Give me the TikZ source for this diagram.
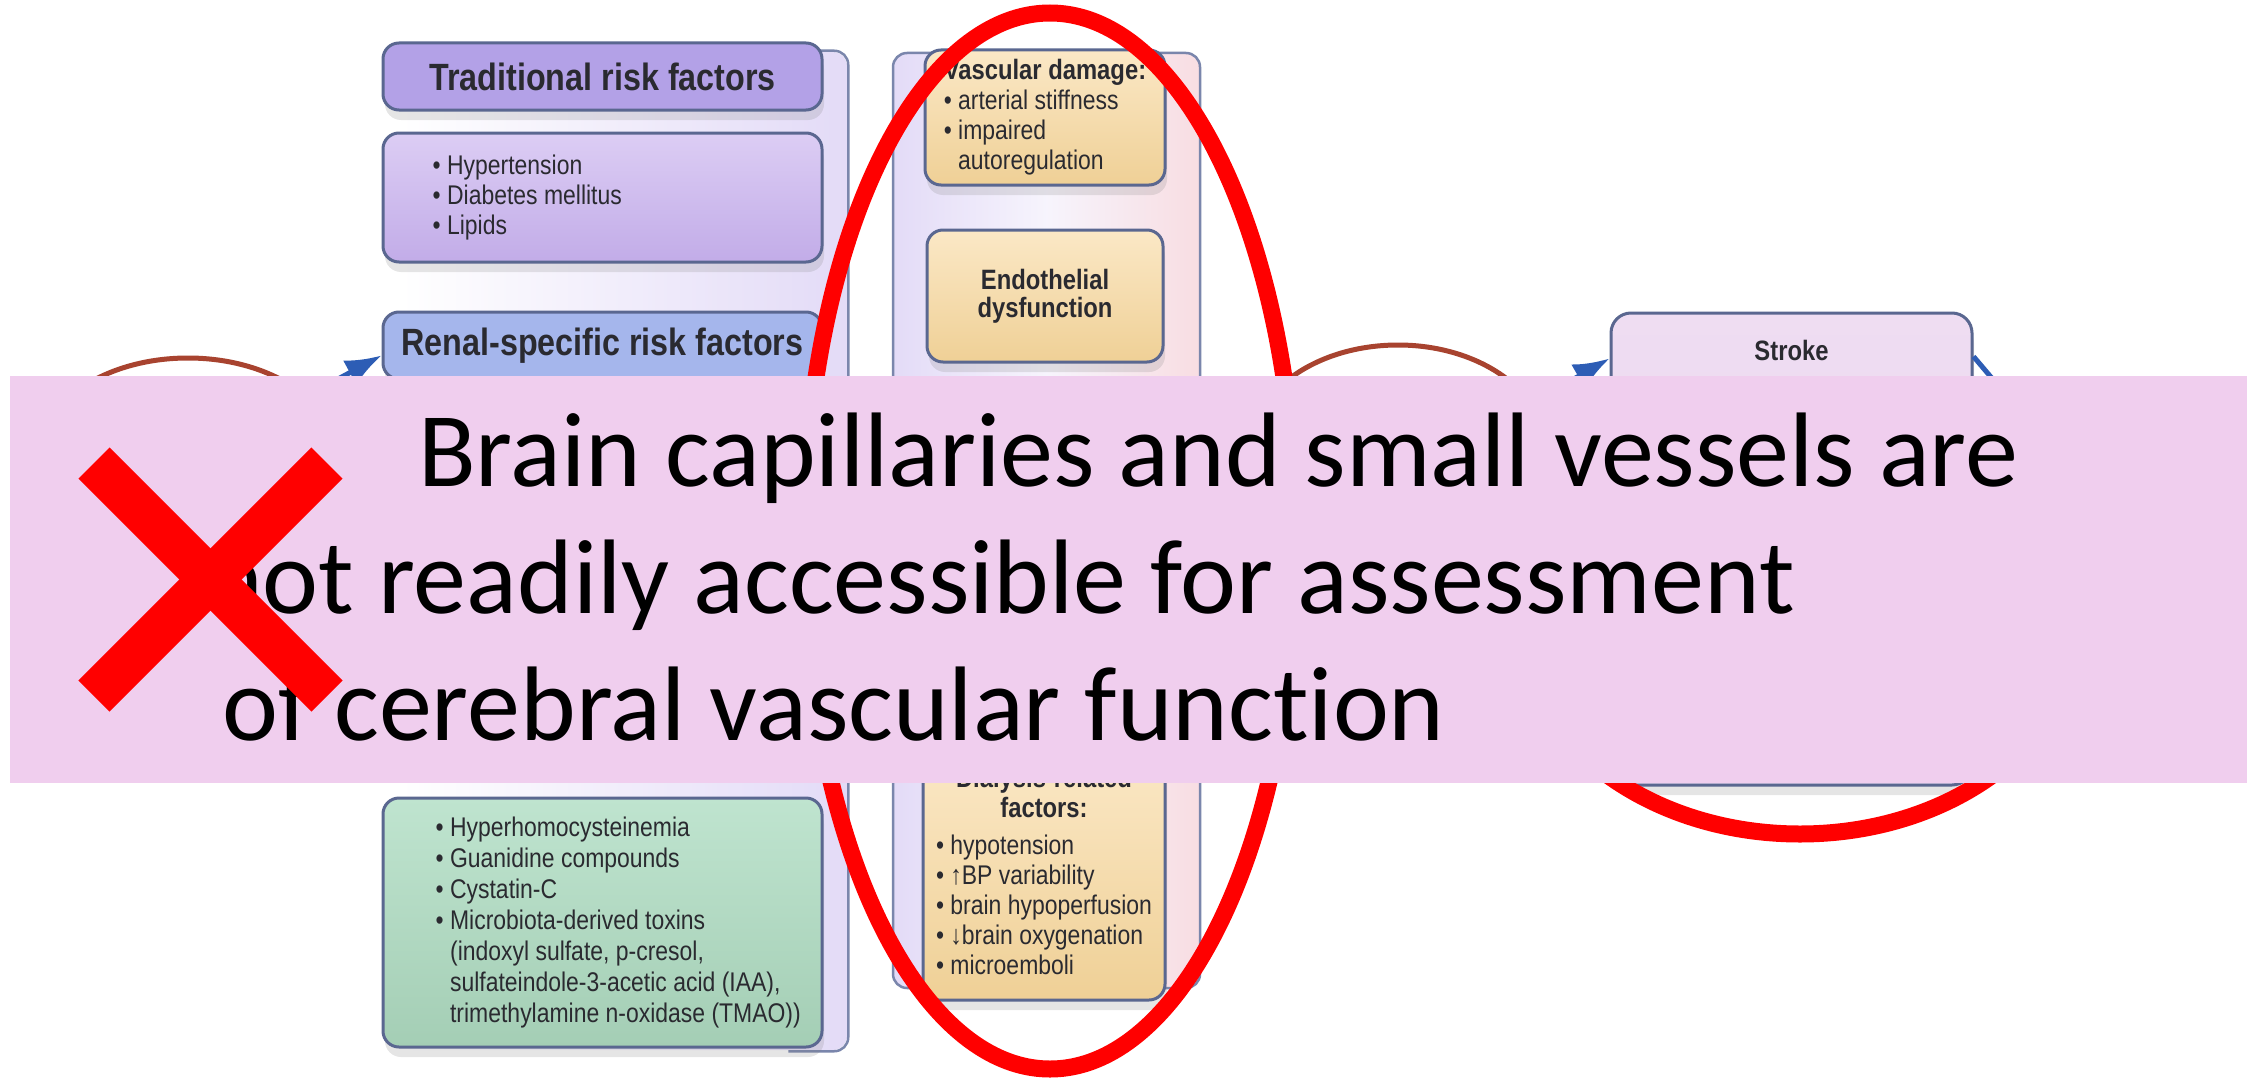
\documentclass[tikz,border=0pt]{standalone}
\usepackage{fontspec}
\setmainfont{Liberation Sans}[FakeStretch=0.85]
\newfontfamily\slidefont{Carlito}[Ligatures=NoCommon]
\usepackage{tikz}
\usetikzlibrary{shapes,arrows,arrows.meta,shadows}
\definecolor{boxline}{HTML}{5A6790}
\definecolor{panelline}{HTML}{7A86AC}
\definecolor{ink}{HTML}{2A2A30}
\definecolor{purplehead}{HTML}{B3A1E7}
\definecolor{lilactop}{HTML}{DCCDF4}
\definecolor{lilacbot}{HTML}{C2ACE8}
\definecolor{bluehead}{HTML}{A5B6EC}
\definecolor{minttop}{HTML}{BFE4CF}
\definecolor{mintbot}{HTML}{A4CEB5}
\definecolor{tantop}{HTML}{FBE8C6}
\definecolor{tanbot}{HTML}{EFD096}
\definecolor{strokepink}{HTML}{EFDDF2}
\definecolor{strokepink2}{HTML}{E4D2EE}
\definecolor{panellav}{HTML}{E3DBF7}
\definecolor{panelpink}{HTML}{F8DDE2}
\definecolor{arrowblue}{HTML}{2D5DB5}
\definecolor{ringbrown}{HTML}{A8432F}
\definecolor{bannerpink}{HTML}{F0CEEE}
\definecolor{alertred}{HTML}{FF0000}

\tikzstyle{box} = [rectangle, draw=boxline, line width=3pt, rounded corners=16pt,
                   inner sep=0pt, text=ink,
                   drop shadow={shadow xshift=2pt, shadow yshift=-10pt, opacity=0.2}]
\tikzstyle{panel} = [rectangle, draw=panelline, line width=2.5pt, rounded corners=14pt, inner sep=0pt]
\tikzstyle{head} = [font=\fontsize{38}{40}\selectfont\bfseries]
\tikzstyle{items} = [align=left, font=\fontsize{27}{30}\selectfont, text=ink, inner sep=0pt]
\tikzstyle{line} = [draw, line width=5pt, color=arrowblue, -{Latex[length=36pt,width=28pt]}]
\tikzstyle{ring} = [draw=ringbrown, line width=5pt]
\tikzstyle{circled} = [draw=alertred, line width=17pt]
\tikzstyle{crossbar} = [draw=alertred, line width=44pt]
\tikzstyle{bannertext} = [font=\slidefont\fontsize{106}{127}\selectfont, anchor=base west, inner sep=0pt]

\begin{document}
\begin{tikzpicture}[x=1pt, y=-1pt]
\useasboundingbox (0,0) rectangle (2247,1081);
\fill[white] (0,0) rectangle (2247,1081);

\node[panel, draw=none, left color=white, right color=panellav, minimum width=447pt, minimum height=998pt] (leftpanel) at (623.5,551) {};
\draw[panelline, line width=2.5pt, rounded corners=14pt] ([xshift=-60pt]leftpanel.north east) -| (leftpanel.east) |- ([xshift=-60pt]leftpanel.south east);
\node[panel, left color=panellav, right color=panelpink, middle color=white!70!panellav, minimum width=307pt, minimum height=935pt] (midpanel) at (1046.5,520.5) {};

\node[box, head, fill=purplehead, minimum width=439pt, minimum height=67pt] (tradbox) at (602.5,76.5) {Traditional risk factors};
\node[box, top color=lilactop, bottom color=lilacbot, minimum width=439pt, minimum height=129pt] (hyperbox) at (602.5,197.5) {};
\node[items, right] (tradlist) at ([xshift=51pt]hyperbox.west) {\textbullet\ Hypertension\\ \textbullet\ Diabetes mellitus\\ \textbullet\ Lipids};
\node[box, head, fill=bluehead, minimum width=439pt, minimum height=67pt] (renalbox) at (602.5,345.5) {Renal-specific risk factors};
\node[box, top color=minttop, bottom color=mintbot, minimum width=439pt, minimum height=249pt] (uremicbox) at (602.5,922.5) {};
\node[items, right, font=\fontsize{27}{31}\selectfont] (uremiclist) at ([xshift=54pt]uremicbox.west) {\textbullet\ Hyperhomocysteinemia\\ \textbullet\ Guanidine compounds\\ \textbullet\ Cystatin-C\\ \textbullet\ Microbiota-derived toxins\\ \phantom{\textbullet\ }(indoxyl sulfate, p-cresol,\\ \phantom{\textbullet\ }sulfateindole-3-acetic acid (IAA),\\ \phantom{\textbullet\ }trimethylamine n-oxidase (TMAO))};

\node[box, top color=tantop, bottom color=tanbot, minimum width=240pt, minimum height=135pt, align=left, font=\fontsize{27}{30}\selectfont] (vascbox) at (1045,117.5) {{\fontsize{28}{30}\selectfont\bfseries Vascular damage:}\\ \textbullet\ arterial stiffness\\ \textbullet\ impaired\\ \phantom{\textbullet\ }autoregulation};
\node[box, top color=tantop, bottom color=tanbot, minimum width=236pt, minimum height=132pt, align=center, font=\fontsize{28}{28}\selectfont\bfseries, below of=vascbox, node distance=178.5pt] (endobox) {Endothelial\\dysfunction};
\node[box, top color=tantop, bottom color=tanbot, minimum width=242pt, minimum height=250pt, font=\fontsize{27}{30}\selectfont] (dialbox) at (1044,875) {\begin{tabular}{@{}l@{}}
\multicolumn{1}{@{}c@{}}{\fontsize{28}{30}\selectfont\bfseries Dialysis-related}\\
\multicolumn{1}{@{}c@{}}{\fontsize{28}{30}\selectfont\bfseries factors:}\\[7pt]
\textbullet\ hypotension\\ \textbullet\ ↑BP variability\\ \textbullet\ brain hypoperfusion\\ \textbullet\ ↓brain oxygenation\\ \textbullet\ microemboli
\end{tabular}};

\node[box, top color=strokepink, bottom color=strokepink2, rounded corners=20pt, minimum width=361pt, minimum height=472pt] (strokebox) at (1791.5,549) {};
\node[text=ink, font=\fontsize{28}{30}\selectfont\bfseries] (strokelabel) at ([yshift=-39pt]strokebox.north) {Stroke};

\coordinate (renalin) at (290,405);
\coordinate (strokein) at (1520,410);
\coordinate (strokeout) at (2012,402);
\path[line] (renalin) -- ([yshift=-10pt]renalbox.west);
\path[line] (strokein) -- ([yshift=-47pt]strokebox.north west);
\path[line, -] ([yshift=-45pt]strokebox.north east) -- (strokeout);

\draw[ring] (188,458) ellipse [x radius=150pt, y radius=100pt];
\draw[ring] (1398,450) ellipse [x radius=148pt, y radius=105pt];

\draw[circled] (1050,541) ellipse [x radius=246pt, y radius=528pt];
\draw[circled] (1800,615) ellipse [x radius=282pt, y radius=219pt];

\fill[bannerpink] (10,376) rectangle (2247,783);
\node[bannertext] (bannerline1) at (418,486) {Brain capillaries and small vessels are};
\node[bannertext] (bannerline2) at (207,613) {not readily accessible for assessment};
\node[bannertext] (bannerline3) at (222,740) {of cerebral vascular function};

\draw[crossbar] (94,463) -- (327,696);
\draw[crossbar] (94,696) -- (327,463);

\end{tikzpicture}
\end{document}
